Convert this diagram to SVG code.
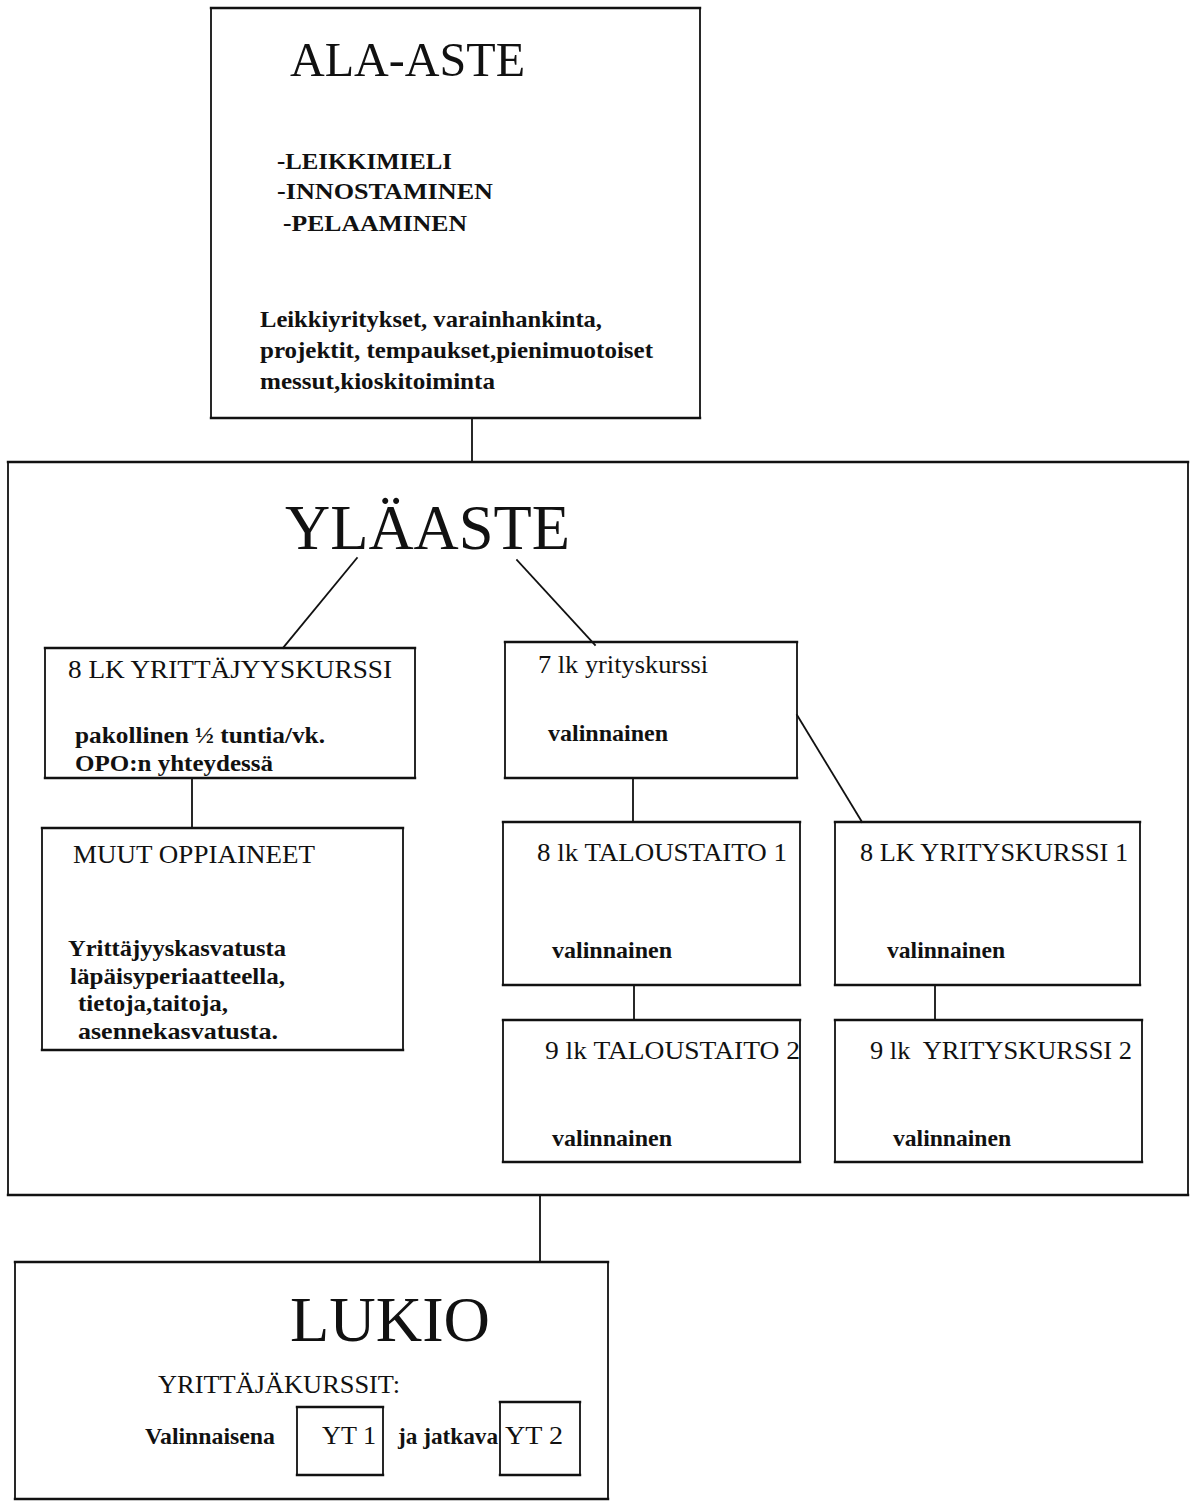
<svg xmlns="http://www.w3.org/2000/svg" width="1197" height="1503" viewBox="0 0 1197 1503">
<style>
  .bg{fill:#ffffff}
  line{stroke:#111;stroke-linecap:square}
  .h{stroke-width:2.4}
  .v{stroke-width:1.8}
  .d{stroke-width:1.8;stroke-dasharray:7 2}
  text{font-family:"Liberation Serif","Times New Roman",serif;fill:#111;white-space:pre}
  .title{font-size:64px}
  .t46{font-size:48px}
  .hd{font-size:26px}
  .b{font-size:24px;font-weight:bold}
</style>
<rect class="bg" x="0" y="0" width="1197" height="1503"/>

<g id="connectors">
  <line class="v" x1="472" y1="418" x2="472" y2="462"/>
  <line class="v" x1="357" y1="558" x2="283" y2="648"/>
  <line class="v" x1="517" y1="560" x2="595" y2="645"/>
  <line class="d" x1="192" y1="778" x2="192" y2="828"/>
  <line class="v" x1="633" y1="778" x2="633" y2="822"/>
  <line class="v" x1="797" y1="715" x2="862" y2="822"/>
  <line class="v" x1="634" y1="985" x2="634" y2="1020"/>
  <line class="v" x1="935" y1="985" x2="935" y2="1020"/>
  <line class="v" x1="540" y1="1195" x2="540" y2="1262"/>
</g>

<g id="ala-aste">
  <line class="h" x1="211" y1="8" x2="700" y2="8"/>
  <line class="h" x1="211" y1="418" x2="700" y2="418"/>
  <line class="d" x1="211" y1="8" x2="211" y2="418"/>
  <line class="v" x1="700" y1="8" x2="700" y2="418"/>
  <text class="t46" x="290" y="76" textLength="235" lengthAdjust="spacingAndGlyphs">ALA-ASTE</text>
  <text class="b" x="277" y="169" textLength="175" lengthAdjust="spacingAndGlyphs">-LEIKKIMIELI</text>
  <text class="b" x="277" y="199" textLength="216" lengthAdjust="spacingAndGlyphs">-INNOSTAMINEN</text>
  <text class="b" x="283" y="231" textLength="184" lengthAdjust="spacingAndGlyphs">-PELAAMINEN</text>
  <text class="b" x="260" y="327" textLength="342" lengthAdjust="spacingAndGlyphs">Leikkiyritykset, varainhankinta,</text>
  <text class="b" x="260" y="358" textLength="393" lengthAdjust="spacingAndGlyphs">projektit, tempaukset,pienimuotoiset</text>
  <text class="b" x="260" y="389" textLength="235" lengthAdjust="spacingAndGlyphs">messut,kioskitoiminta</text>
</g>

<g id="ylaaste">
  <line class="h" x1="8" y1="462" x2="1188" y2="462"/>
  <line class="h" x1="8" y1="1195" x2="1188" y2="1195"/>
  <line class="d" x1="8" y1="462" x2="8" y2="1195"/>
  <line class="d" x1="1188" y1="462" x2="1188" y2="1195"/>
  <text class="title" x="285" y="549" textLength="285" lengthAdjust="spacingAndGlyphs">YLÄASTE</text>
</g>

<g id="yrittajyyskurssi8">
  <line class="h" x1="45" y1="648" x2="415" y2="648"/>
  <line class="h" x1="45" y1="778" x2="415" y2="778"/>
  <line class="d" x1="45" y1="648" x2="45" y2="778"/>
  <line class="v" x1="415" y1="648" x2="415" y2="778"/>
  <text class="hd" x="68" y="678" textLength="324" lengthAdjust="spacingAndGlyphs">8 LK YRITTÄJYYSKURSSI</text>
  <text class="b" x="75" y="743" textLength="250" lengthAdjust="spacingAndGlyphs">pakollinen ½ tuntia/vk.</text>
  <text class="b" x="75" y="771" textLength="198" lengthAdjust="spacingAndGlyphs">OPO:n yhteydessä</text>
</g>

<g id="muut-oppiaineet">
  <line class="h" x1="42" y1="828" x2="403" y2="828"/>
  <line class="h" x1="42" y1="1050" x2="403" y2="1050"/>
  <line class="d" x1="42" y1="828" x2="42" y2="1050"/>
  <line class="d" x1="403" y1="828" x2="403" y2="1050"/>
  <text class="hd" x="73" y="863" textLength="242" lengthAdjust="spacingAndGlyphs">MUUT OPPIAINEET</text>
  <text class="b" x="68" y="956" textLength="218" lengthAdjust="spacingAndGlyphs">Yrittäjyyskasvatusta</text>
  <text class="b" x="70" y="984" textLength="215" lengthAdjust="spacingAndGlyphs">läpäisyperiaatteella,</text>
  <text class="b" x="78" y="1011" textLength="150" lengthAdjust="spacingAndGlyphs">tietoja,taitoja,</text>
  <text class="b" x="78" y="1039" textLength="200" lengthAdjust="spacingAndGlyphs">asennekasvatusta.</text>
</g>

<g id="yrityskurssi7">
  <line class="h" x1="505" y1="642" x2="797" y2="642"/>
  <line class="h" x1="505" y1="778" x2="797" y2="778"/>
  <line class="v" x1="505" y1="642" x2="505" y2="778"/>
  <line class="v" x1="797" y1="642" x2="797" y2="778"/>
  <text class="hd" x="538" y="673" textLength="170" lengthAdjust="spacingAndGlyphs">7 lk yrityskurssi</text>
  <text class="b" x="548" y="741" textLength="120" lengthAdjust="spacingAndGlyphs">valinnainen</text>
</g>

<g id="taloustaito1">
  <line class="h" x1="503" y1="822" x2="800" y2="822"/>
  <line class="h" x1="503" y1="985" x2="800" y2="985"/>
  <line class="v" x1="503" y1="822" x2="503" y2="985"/>
  <line class="v" x1="800" y1="822" x2="800" y2="985"/>
  <text class="hd" x="537" y="861" textLength="250" lengthAdjust="spacingAndGlyphs">8 lk TALOUSTAITO 1</text>
  <text class="b" x="552" y="958" textLength="120" lengthAdjust="spacingAndGlyphs">valinnainen</text>
</g>

<g id="yrityskurssi1">
  <line class="h" x1="835" y1="822" x2="1140" y2="822"/>
  <line class="h" x1="835" y1="985" x2="1140" y2="985"/>
  <line class="v" x1="835" y1="822" x2="835" y2="985"/>
  <line class="d" x1="1140" y1="822" x2="1140" y2="985"/>
  <text class="hd" x="860" y="861" textLength="268" lengthAdjust="spacingAndGlyphs">8 LK YRITYSKURSSI 1</text>
  <text class="b" x="887" y="958" textLength="118" lengthAdjust="spacingAndGlyphs">valinnainen</text>
</g>

<g id="taloustaito2">
  <line class="h" x1="503" y1="1020" x2="800" y2="1020"/>
  <line class="h" x1="503" y1="1162" x2="800" y2="1162"/>
  <line class="d" x1="503" y1="1020" x2="503" y2="1162"/>
  <line class="d" x1="800" y1="1020" x2="800" y2="1162"/>
  <text class="hd" x="545" y="1059" textLength="255" lengthAdjust="spacingAndGlyphs">9 lk TALOUSTAITO 2</text>
  <text class="b" x="552" y="1146" textLength="120" lengthAdjust="spacingAndGlyphs">valinnainen</text>
</g>

<g id="yrityskurssi2">
  <line class="h" x1="835" y1="1020" x2="1142" y2="1020"/>
  <line class="h" x1="835" y1="1162" x2="1142" y2="1162"/>
  <line class="v" x1="835" y1="1020" x2="835" y2="1162"/>
  <line class="d" x1="1142" y1="1020" x2="1142" y2="1162"/>
  <text class="hd" x="870" y="1059" textLength="262" lengthAdjust="spacingAndGlyphs">9 lk  YRITYSKURSSI 2</text>
  <text class="b" x="893" y="1146" textLength="118" lengthAdjust="spacingAndGlyphs">valinnainen</text>
</g>

<g id="lukio">
  <line class="h" x1="15" y1="1262" x2="608" y2="1262"/>
  <line class="h" x1="15" y1="1499" x2="608" y2="1499"/>
  <line class="d" x1="15" y1="1262" x2="15" y2="1499"/>
  <line class="d" x1="608" y1="1262" x2="608" y2="1499"/>
  <text class="title" x="290" y="1341" textLength="200" lengthAdjust="spacingAndGlyphs">LUKIO</text>
  <text class="hd" x="158" y="1393" textLength="242" lengthAdjust="spacingAndGlyphs">YRITTÄJÄKURSSIT:</text>
  <text class="b" x="145" y="1444" textLength="130" lengthAdjust="spacingAndGlyphs">Valinnaisena</text>
  <text class="b" x="398" y="1444" textLength="100" lengthAdjust="spacingAndGlyphs">ja jatkava</text>
</g>

<g id="yt1">
  <line class="h" x1="297" y1="1407" x2="383" y2="1407"/>
  <line class="h" x1="297" y1="1475" x2="383" y2="1475"/>
  <line class="d" x1="297" y1="1407" x2="297" y2="1475"/>
  <line class="d" x1="383" y1="1407" x2="383" y2="1475"/>
  <text class="hd" x="322" y="1444" textLength="54" lengthAdjust="spacingAndGlyphs">YT 1</text>
</g>

<g id="yt2">
  <line class="h" x1="500" y1="1402" x2="580" y2="1402"/>
  <line class="h" x1="500" y1="1475" x2="580" y2="1475"/>
  <line class="v" x1="500" y1="1402" x2="500" y2="1475"/>
  <line class="v" x1="580" y1="1402" x2="580" y2="1475"/>
  <text class="hd" x="505" y="1444" textLength="58" lengthAdjust="spacingAndGlyphs">YT 2</text>
</g>
</svg>
